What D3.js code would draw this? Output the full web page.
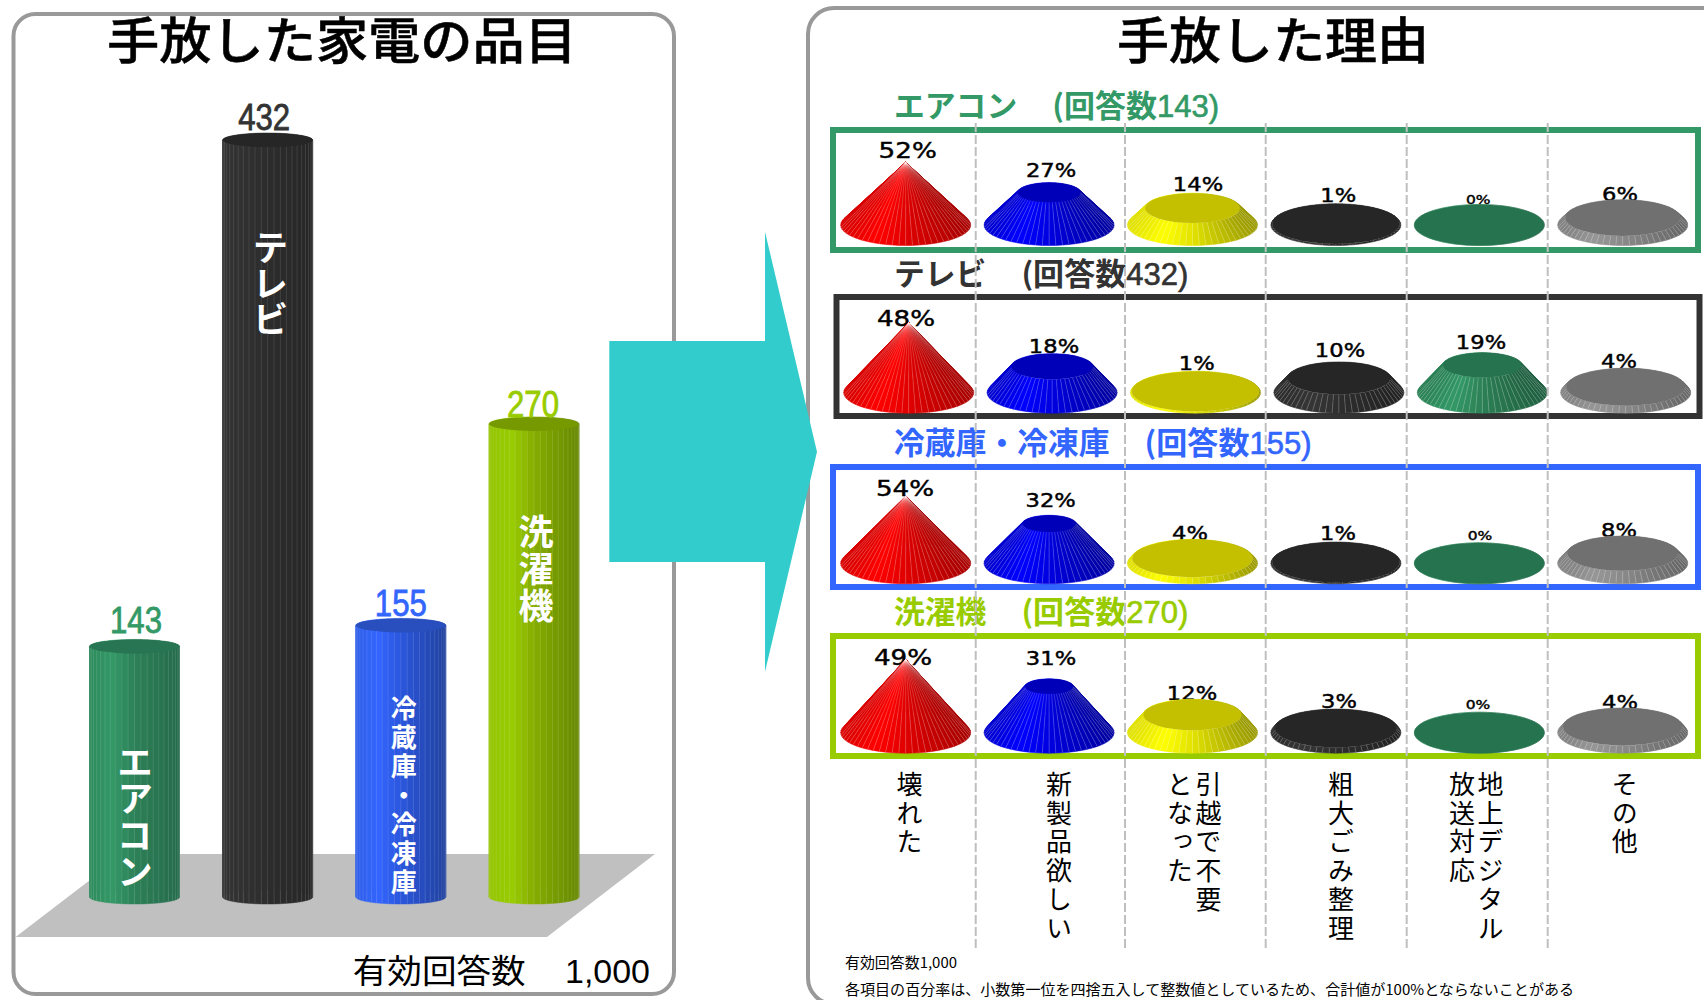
<!DOCTYPE html>
<html lang="ja">
<head>
<meta charset="utf-8">
<title>手放した家電の品目と理由</title>
<script src="https://cdn.jsdelivr.net/npm/d3@7/dist/d3.min.js"></script>
<style>
  html, body { margin: 0; padding: 0; background: #fff; }
  svg { display: block; }
  .jp { font-family: "Noto Sans CJK JP", "Noto Sans", sans-serif; }
  .latin { font-family: "Liberation Sans", Arial, sans-serif; }
  .pct { font-family: "DejaVu Sans", Verdana, sans-serif; fill: #000; stroke: #000; stroke-width: 0.45; }
  .vertical { writing-mode: vertical-rl; text-orientation: upright; }
</style>
</head>
<body>
<svg id="chart" width="1704" height="1000" viewBox="0 0 1704 1000"></svg>
<script>
// Appliances handed over, with their respondent counts
const appliances = ["エアコン", "テレビ", "冷蔵庫・冷凍庫", "洗濯機"];
const applianceCounts = [143, 432, 155, 270];

// Reasons, one entry per column; each inner list is one vertical line of text
const reasons = [
  ["壊れた"],
  ["新製品欲しい"],
  ["引越で不要", "となった"],
  ["粗大ごみ整理"],
  ["地上デジタル", "放送対応"],
  ["その他"]
];

// Percentage per reason, one list per appliance
const airconShares = [52, 27, 14, 1, 0, 6];
const tvShares = [48, 18, 1, 10, 19, 4];
const fridgeShares = [54, 32, 4, 1, 0, 8];
const washerShares = [49, 31, 12, 3, 0, 4];
const shareRows = [airconShares, tvShares, fridgeShares, washerShares];

const totalAnswers = "1,000";
const footnote = "各項目の百分率は、小数第一位を四捨五入して整数値としているため、合計値が100%とならないことがある";

// ---- Palettes and layout ----
const applianceColors = ["#339966", "#333333", "#3366FF", "#99CC00"];
const barShades = [
  ["#2e8a5c", "#339966", "#2c8058", "#256b4b"],
  ["#333333", "#303030", "#2c2c2c", "#272727"],
  ["#2f5ee8", "#3366FF", "#2c56dc", "#20429f"],
  ["#94c400", "#99CC00", "#85ad00", "#668800"]
];
const barCaps = ["#277552", "#262626", "#284fbd", "#779900"];
const reasonShades = [
  ["#d80000", "#ff0000", "#e00000", "#a80000"],
  ["#0000d0", "#0000ff", "#0000e0", "#0000a0"],
  ["#e0e000", "#ffff00", "#e2e200", "#999900"],
  ["#2c2c2c", "#363636", "#2e2e2e", "#222222"],
  ["#2a8055", "#339966", "#2c8055", "#1f5f40"],
  ["#808080", "#979797", "#8a8a8a", "#666666"]
];
const reasonCaps = ["#c00000", "#0000b8", "#c4c000", "#262626", "#26734f", "#707070"];

const frames = [
  { x: 833, y: 130, w: 865, h: 120 },
  { x: 836.5, y: 297, w: 863, h: 119 },
  { x: 833, y: 467, w: 865, h: 120 },
  { x: 833, y: 636, w: 865, h: 120 }
];
const coneBases = [225, 392.7, 563.3, 732.7];
const coneHeights = [62.7, 70, 67, 73.3];
const coneShift = [0, 3, 0, 0];
const headerBaselines = [117, 285, 454, 623];

// Hand placement of each percentage relative to the top of its mark
const labelNudges = [
  [[2, -4.6], [2, -5.2], [5.5, -2.4], [2.4, -1.4], [-1, -0.2], [-2.7, 1.6]],
  [[-2.7, 3.3], [1.9, -0.7], [1.2, -1.1], [1.1, -5.2], [-1.3, -3.6], [-6.7, -0.1]],
  [[-0.7, -0.3], [1.6, -8.2], [-2.5, 0.9], [2.1, -1.9], [0.7, -2.8], [-3.7, 0.8]],
  [[-2.7, 5.6], [1.9, -13.8], [-0.5, 0.5], [3.1, -1], [-1.3, -3.2], [-2.7, 1.1]]
];

const svg = d3.select("#chart");
const pathOf = d3.line();

// Facets of a truncated cone or cylinder seen from above, back ones first
function facets(cx, yBase, yTop, rBase, rTop, ryBase, ryTop, count) {
  const step = 2 * Math.PI / count;
  const list = d3.range(count).map(i => {
    const a = i * step, b = a + step;
    const at = (t, r, ry, y) => [cx + r * Math.cos(t), y + ry * Math.sin(t)];
    return {
      mid: a + step / 2,
      poly: [at(a, rBase, ryBase, yBase), at(b, rBase, ryBase, yBase), at(b, rTop, ryTop, yTop), at(a, rTop, ryTop, yTop)],
      edge: [at(a, rBase, ryBase, yBase), at(a, rTop, ryTop, yTop)]
    };
  });
  return d3.sort(list, d => Math.sin(d.mid));
}

// Left-to-right light falloff over a mark's surface
function shader(stops) {
  return d3.scaleLinear().domain([-1, -0.5, 0, 1]).range(stops).interpolate(d3.interpolateRgb);
}

function drawSolid(parent, spec) {
  const g = parent.append("g");
  const shade = shader(spec.shades);
  const list = facets(spec.cx, spec.yBase, spec.yTop, spec.rBase, spec.rTop, spec.ryBase, spec.ryTop, spec.count);
  g.selectAll("path.facet").data(list).join("path")
    .attr("class", "facet")
    .attr("d", d => pathOf(d.poly) + "Z")
    .attr("fill", d => shade(Math.cos(d.mid)))
    .attr("stroke", d => shade(Math.cos(d.mid)))
    .attr("stroke-width", 0.5);
  if (spec.rBase - spec.rTop > 0.5 || spec.isBar) {
    g.selectAll("path.edge").data(list.filter(d => Math.sin(d.mid) > 0)).join("path")
      .attr("class", "edge")
      .attr("d", d => pathOf(d.edge))
      .attr("fill", "none")
      .attr("stroke", "#fff")
      .attr("stroke-opacity", spec.edgeOpacity)
      .attr("stroke-width", 0.7);
  }
  if (spec.rTop > 0.01) {
    g.append("ellipse")
      .attr("cx", spec.cx).attr("cy", spec.yTop)
      .attr("rx", spec.rTop).attr("ry", spec.ryTop)
      .attr("fill", spec.cap);
  }
}

// ---- Outer panels ----
svg.append("rect").attr("x", 13.5).attr("y", 14).attr("width", 660.5).attr("height", 980).attr("rx", 22)
  .attr("fill", "#fff").attr("stroke", "#999").attr("stroke-width", 4);
svg.append("rect").attr("x", 808).attr("y", 8).attr("width", 940).attr("height", 996).attr("rx", 26)
  .attr("fill", "#fff").attr("stroke", "#999").attr("stroke-width", 4);

svg.append("text").attr("class", "jp").attr("x", 107).attr("y", 59)
  .attr("font-size", 50).attr("font-weight", 500).attr("stroke", "#000").attr("stroke-width", 0.5)
  .attr("textLength", 470).attr("lengthAdjust", "spacingAndGlyphs")
  .text("手放した家電の品目");
svg.append("text").attr("class", "jp").attr("x", 1117).attr("y", 59)
  .attr("font-size", 50).attr("font-weight", 500).attr("stroke", "#000").attr("stroke-width", 0.5)
  .attr("textLength", 312).attr("lengthAdjust", "spacingAndGlyphs")
  .text("手放した理由");

// ---- Left chart: floor plate and cylinders ----
svg.append("polygon").attr("points", "15.6,937 547,937 655,854 124,854").attr("fill", "#C0C0C0");

const barX = d3.scalePoint().domain(appliances).range([134.5, 534]);
const barY = d3.scaleLinear().domain([0, 432]).range([897, 140]);
const barCountShift = [[1.5, -13], [-3.5, -10], [0, -9], [-1, -7]];

appliances.forEach((name, i) => {
  const cx = barX(name);
  const top = barY(applianceCounts[i]);
  drawSolid(svg, {
    cx, yBase: barY(0), yTop: top, rBase: 45, rTop: 45, ryBase: 7, ryTop: 7,
    count: 44, shades: barShades[i], cap: barCaps[i], edgeOpacity: 0.17, isBar: true
  });
  svg.append("text").attr("class", "latin")
    .attr("x", cx + barCountShift[i][0]).attr("y", top + barCountShift[i][1])
    .attr("text-anchor", "middle").attr("font-size", 36)
    .attr("stroke", applianceColors[i]).attr("stroke-width", 0.8)
    .attr("textLength", 52).attr("lengthAdjust", "spacingAndGlyphs")
    .attr("fill", applianceColors[i]).text(applianceCounts[i]);
});

// Names written down the cylinders
const barNames = [
  { size: 36, gap: 0.5, dx: 0.5, y: 744 },
  { size: 36, gap: 0, dx: 2.5, y: 229 },
  { size: 26, gap: 3, dx: 3, y: 695 },
  { size: 35, gap: 2, dx: 2, y: 514 }
];
appliances.forEach((name, i) => {
  const b = barNames[i];
  svg.append("text").attr("class", "jp vertical")
    .attr("x", barX(name) + b.dx).attr("y", b.y)
    .attr("font-size", b.size).attr("font-weight", 700).attr("letter-spacing", b.gap)
    .attr("fill", "#fff").text(name);
});

svg.append("text").attr("class", "jp").attr("x", 352.7).attr("y", 983)
  .attr("font-size", 33).attr("textLength", 173).attr("lengthAdjust", "spacingAndGlyphs").text("有効回答数");
svg.append("text").attr("class", "latin").attr("x", 565).attr("y", 983)
  .attr("font-size", 34).attr("textLength", 85).attr("lengthAdjust", "spacingAndGlyphs").text(totalAnswers);

// ---- Arrow between the two charts ----
svg.append("polygon")
  .attr("points", "609.3,341 765,341 765,231.7 817,451.7 765,671.7 765,562 609.3,562")
  .attr("fill", "#33CCCC");

// ---- Right chart: one framed row per appliance ----
const reasonX = d3.scalePoint().domain(d3.range(reasons.length)).range([905.7, 1622.7]);
const coneRadius = d3.scaleLinear().domain([0, 1]).range([65, 0]);
const coneDepth = d3.scaleLinear().domain([0, 1]).range([20.5, 0]);

const pctSize = (v, max) => (v === 0 ? 13 : v === max ? 22 : 19);
const pctWidth = (v, size) => size * (0.636 * String(v).length + 0.95) * 1.19;

shareRows.forEach((shares, r) => {
  const frame = frames[r];
  const name = appliances[r];
  const color = applianceColors[r];
  const baseline = headerBaselines[r];
  const max = d3.max(shares);
  const share = d3.scaleLinear().domain([0, max]).range([0, 1]);

  // Row heading
  svg.append("text").attr("class", "jp").attr("x", 894).attr("y", baseline)
    .attr("font-size", 30.5).attr("font-weight", 700).attr("fill", color)
    .attr("textLength", name.length * 30.8).attr("lengthAdjust", "spacingAndGlyphs").text(name);
  svg.append("text").attr("x", 895 + name.length * 30.8 + 34).attr("y", baseline)
    .attr("font-size", 30.5).attr("fill", color)
    .attr("textLength", 167).attr("lengthAdjust", "spacingAndGlyphs")
    .call(t => {
      t.append("tspan").attr("class", "jp").attr("font-weight", 700).text("(回答数");
      t.append("tspan").attr("class", "latin").attr("stroke", color).attr("stroke-width", 0.6)
        .text(applianceCounts[r] + ")");
    });

  svg.append("rect").attr("x", frame.x).attr("y", frame.y).attr("width", frame.w).attr("height", frame.h)
    .attr("fill", "none").attr("stroke", color).attr("stroke-width", 6);

  // Labels first: the marks sit over any overlap
  shares.forEach((v, i) => {
    const t = share(v);
    const cx = reasonX(i) + coneShift[r];
    const topY = coneBases[r] - t * coneHeights[r];
    const edgeY = topY - coneDepth(t);
    const size = pctSize(v, max);
    const [dx, dy] = labelNudges[r][i];
    svg.append("text").attr("class", "pct")
      .attr("x", cx + dx).attr("y", edgeY + dy)
      .attr("text-anchor", "middle").attr("font-size", size)
      .attr("textLength", pctWidth(v, size)).attr("lengthAdjust", "spacingAndGlyphs")
      .text(v + "%");
  });

  shares.forEach((v, i) => {
    const t = share(v);
    const cx = reasonX(i) + coneShift[r];
    drawSolid(svg, {
      cx, yBase: coneBases[r], yTop: coneBases[r] - t * coneHeights[r],
      rBase: coneRadius(0), rTop: coneRadius(t), ryBase: coneDepth(0), ryTop: coneDepth(t),
      count: 60, shades: reasonShades[i], cap: reasonCaps[i], edgeOpacity: 0.3
    });
  });
});

// Column rules run over the frames and headings
const ruleX = [975.7, 1125, 1265.7, 1406.7, 1547.7];
svg.selectAll("line.rule").data(ruleX).join("line")
  .attr("class", "rule")
  .attr("x1", d => d).attr("x2", d => d)
  .attr("y1", 123).attr("y2", 949)
  .attr("stroke", "#bfbfbf").attr("stroke-width", 2).attr("stroke-dasharray", "9,3");

// Reason captions, written vertically with second lines to the left
const captionShift = [3.8, 10, 1.7, 5, -3, 2];
reasons.forEach((lines, i) => {
  const centre = reasonX(i) + captionShift[i];
  lines.forEach((line, k) => {
    const x = centre + ((lines.length - 1) / 2 - k) * 28.5;
    svg.append("text").attr("class", "jp vertical")
      .attr("x", x).attr("y", 771)
      .attr("font-size", 26).attr("letter-spacing", 2.8)
      .attr("fill", "#000").text(line);
  });
});

svg.append("text").attr("class", "jp").attr("x", 845).attr("y", 968)
  .attr("font-size", 14.5).attr("textLength", 112).attr("lengthAdjust", "spacingAndGlyphs")
  .text("有効回答数" + totalAnswers);
svg.append("text").attr("class", "jp").attr("x", 845).attr("y", 995)
  .attr("font-size", 14.5).attr("textLength", 729).attr("lengthAdjust", "spacingAndGlyphs")
  .text(footnote);
</script>
</body>
</html>
